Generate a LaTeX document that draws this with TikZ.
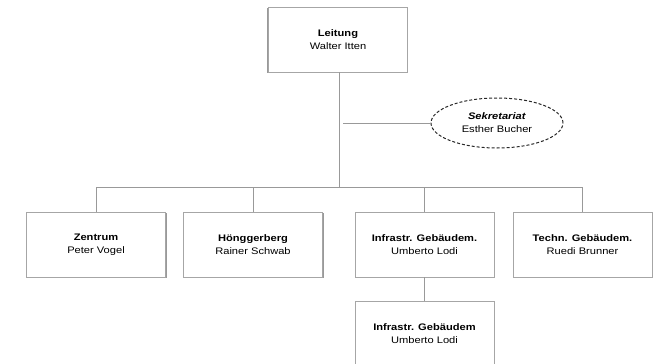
\documentclass[tikz,border=0pt]{standalone}
\usepackage{fontspec}
\setmainfont{Liberation Sans}[FakeStretch=1.17]
\usetikzlibrary{shadows,shapes.geometric}
\begin{document}
\begin{tikzpicture}[x=1pt,y=-1pt,
  orgbox/.style={draw=gray!70, line width=0.8pt, fill=white, minimum width=139pt, minimum height=65pt,
    align=center, font=\fontsize{9.5}{13}\selectfont,
    drop shadow={shadow xshift=1.2pt, shadow yshift=-1.2pt, fill=gray!80, opacity=1}},
  orgboxl/.style={draw=gray!70, line width=0.8pt, fill=white, minimum width=139pt, minimum height=65pt,
    align=center, font=\fontsize{9.5}{13}\selectfont,
    drop shadow={shadow xshift=-1.2pt, shadow yshift=-1.2pt, fill=gray!80, opacity=1}},
  orgell/.style={draw=black!85, dash pattern=on 3pt off 2pt, line width=1pt, fill=white, ellipse, minimum width=132pt, minimum height=50pt,
    inner sep=0pt, align=center, font=\fontsize{9.5}{13}\selectfont},
  conn/.style={draw=gray!80, line width=0.8pt}]
\useasboundingbox (0,0) rectangle (657,364);
\node[orgboxl] (leit) at (338,39.5) {\textbf{Leitung}\\Walter Itten};
\node[orgell] (sek) at (497,123) {\textbf{\textit{Sekretariat}}\\Esther Bucher};
\node[orgbox] (zen) at (96,244.5) {\textbf{Zentrum}\\Peter Vogel};
\node[orgbox] (hon) at (253,244.5) {\textbf{Hönggerberg}\\Rainer Schwab};
\node[orgbox] (inf) at (424.5,244.5) {\textbf{Infrastr. Gebäudem.}\\Umberto Lodi};
\node[orgbox] (tec) at (582.5,244.5) {\textbf{Techn. Gebäudem.}\\Ruedi Brunner};
\node[orgbox] (inf2) at (424.5,333.5) {\textbf{Infrastr. Gebäudem}\\Umberto Lodi};
\coordinate (bus) at (339,187);
\coordinate (sj) at (343,123);
\draw[conn] (leit.south -| bus) -- (bus);
\draw[conn] (sj) -- (sek.west);
\draw[conn] (zen.north) -- (zen.north |- bus) -- (tec.north |- bus) -- (tec.north);
\draw[conn] (hon.north) -- (hon.north |- bus);
\draw[conn] (inf.north) -- (inf.north |- bus);
\draw[conn] (inf.south) -- (inf2.north);
\end{tikzpicture}
\end{document}
